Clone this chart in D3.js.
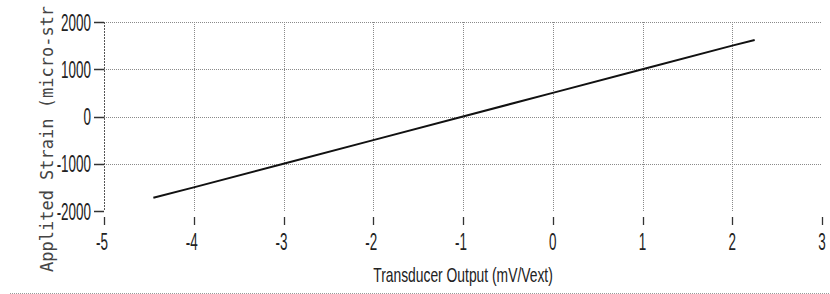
<!DOCTYPE html>
<html><head><meta charset="utf-8">
<script src="https://cdn.jsdelivr.net/npm/d3@7"></script>
<style>html,body{margin:0;padding:0;background:#fff;}svg{display:block;}</style>
</head><body>
<svg id="c" width="830" height="294"></svg>
<script>
const xTicks = [-5, -4, -3, -2, -1, 0, 1, 2, 3];
const yTicks = [-2000, -1000, 0, 1000, 2000];
const xGrid = [-4, -3, -2, -1, 0, 1, 2];
const yGrid = [-1000, 0, 1000, 2000];
const outputX = [-4.45, -4, -3, -2, -1, 0, 1, 2, 2.25];
const strainY = [-1720, -1500, -1000, -500, 0, 500, 1000, 1500, 1620];
const xTitle = "Transducer Output (mV/Vext)";
const yTitle = "Applited Strain (micro-str";

const svg = d3.select("#c");
const x = d3.scaleLinear().domain([-5, 3]).range([104, 822]);
const y = d3.scaleLinear().domain([-2000, 2000]).range([211, 22]);
const gridCol = "#8a8a8a";
const numFont = "'Liberation Sans Narrow','Liberation Sans',sans-serif";

// horizontal grid
svg.append("g").selectAll("line").data(yGrid).join("line")
  .attr("x1", x(-5)).attr("x2", x(3))
  .attr("y1", d => Math.round(y(d)) + 0.5).attr("y2", d => Math.round(y(d)) + 0.5)
  .attr("stroke", gridCol).attr("stroke-width", 1).attr("stroke-dasharray", "1,1");
// vertical grid
svg.append("g").selectAll("line").data(xGrid).join("line")
  .attr("x1", d => Math.round(x(d)) + 0.5).attr("x2", d => Math.round(x(d)) + 0.5)
  .attr("y1", y(2000)).attr("y2", y(-2000))
  .attr("stroke", gridCol).attr("stroke-width", 1).attr("stroke-dasharray", "1,1");
// y axis line
svg.append("line").attr("x1", 104.5).attr("x2", 104.5).attr("y1", y(2000)).attr("y2", y(-2000))
  .attr("stroke", "#555").attr("stroke-width", 1).attr("stroke-dasharray", "2,1");

// y ticks + labels
const yt = svg.append("g");
yt.selectAll("line").data(yTicks).join("line")
  .attr("x1", 94).attr("x2", 104).attr("y1", d => Math.round(y(d)) + 0.5).attr("y2", d => Math.round(y(d)) + 0.5)
  .attr("stroke", "#333").attr("stroke-width", 1.5);
yt.selectAll("text").data(yTicks).join("text")
  .attr("transform", d => `translate(91,${y(d) + 8.5}) scale(0.56,1)`)
  .attr("text-anchor", "end").attr("font-family", numFont).attr("font-size", 24).attr("fill", "#222")
  .text(d => d);

// x ticks + labels
const xt = svg.append("g");
xt.selectAll("line").data(xTicks).join("line")
  .attr("x1", d => Math.round(x(d)) + 0.5).attr("x2", d => Math.round(x(d)) + 0.5)
  .attr("y1", 217).attr("y2", 225)
  .attr("stroke", "#333").attr("stroke-width", 1.3);
xt.selectAll("text").data(xTicks).join("text")
  .attr("transform", d => `translate(${x(d) - (d < 0 ? 2 : 0)},250) scale(0.56,1)`)
  .attr("text-anchor", "middle").attr("font-family", numFont).attr("font-size", 24).attr("fill", "#222")
  .text(d => d);

// data line
const pts = outputX.map((v, i) => [v, strainY[i]]);
svg.append("path").datum(pts)
  .attr("d", d3.line().x(d => x(d[0])).y(d => y(d[1])))
  .attr("fill", "none").attr("stroke", "#111").attr("stroke-width", 2);

// x title
svg.append("text")
  .attr("transform", "translate(463,282) scale(0.66,1)")
  .attr("text-anchor", "middle").attr("font-family", numFont).attr("font-size", 21).attr("fill", "#222")
  .text(xTitle);

// y title (monospace, clipped at top)
svg.append("text")
  .attr("transform", "translate(53,272) rotate(-90)")
  .attr("text-anchor", "start").attr("font-family", "'DejaVu Sans Mono',monospace").attr("font-size", 17).attr("fill", "#444")
  .text(yTitle);

// bottom dotted rule
svg.append("line").attr("x1", 10).attr("x2", 830).attr("y1", 293.5).attr("y2", 293.5)
  .attr("stroke", "#999").attr("stroke-width", 1).attr("stroke-dasharray", "1,1");
</script>
</body></html>
